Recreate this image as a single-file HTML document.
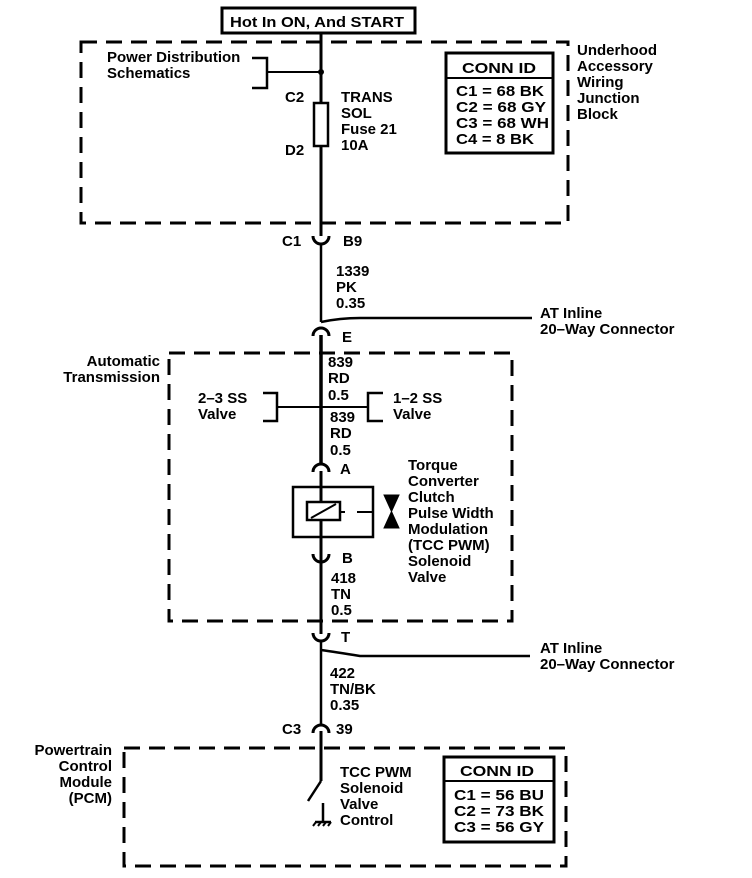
<!DOCTYPE html>
<html><head><meta charset="utf-8"><style>
html,body{margin:0;padding:0;background:#fff;}
svg{display:block;}
text{font-family:"Liberation Sans",Arial,sans-serif;font-size:15px;font-weight:bold;fill:#000;}
</style></head><body>
<svg width="752" height="878" viewBox="0 0 752 878" xmlns="http://www.w3.org/2000/svg">
<g fill="none" stroke="#000">
<rect x="222" y="8" width="193" height="25" stroke-width="3"/>
<rect x="81" y="42" width="487" height="181" stroke-width="3" stroke-dasharray="16,9"/>
<rect x="169" y="353" width="343" height="268" stroke-width="3" stroke-dasharray="16,9"/>
<rect x="124" y="748" width="442" height="118" stroke-width="3" stroke-dasharray="16,9"/>
<line x1="321" y1="33" x2="321" y2="103" stroke-width="3"/>
<line x1="321" y1="146" x2="321" y2="236" stroke-width="3"/>
<rect x="314" y="103" width="14" height="43" stroke-width="2.5"/>
<polyline points="252,58 267,58 267,88 252,88" stroke-width="2.5"/>
<line x1="267" y1="72" x2="321" y2="72" stroke-width="2"/>
<rect x="446" y="53" width="107" height="100" stroke-width="3"/>
<line x1="446" y1="78" x2="553" y2="78" stroke-width="2"/>
<path d="M313,236 A8,8 0 0 0 329,236" stroke-width="3"/>
<line x1="321" y1="244" x2="321" y2="322" stroke-width="2.5"/>
<path d="M313,336 A8,8 0 0 1 329,336" stroke-width="3"/>
<path d="M321,322 Q340,318 360,318 L532,318" stroke-width="2.5"/>
<line x1="321" y1="335" x2="321" y2="463" stroke-width="3.5"/>
<line x1="277" y1="407" x2="368" y2="407" stroke-width="2"/>
<polyline points="263,393 277,393 277,421 263,421" stroke-width="2.5"/>
<polyline points="383,393 368,393 368,421 383,421" stroke-width="2.5"/>
<path d="M313,472 A8,8 0 0 1 329,472" stroke-width="3"/>
<line x1="321" y1="471" x2="321" y2="502" stroke-width="3"/>
<rect x="293" y="487" width="80" height="50" stroke-width="2.5"/>
<rect x="307" y="502" width="33" height="18" stroke-width="2.5"/>
<line x1="311" y1="518" x2="336" y2="504" stroke-width="2"/>
<line x1="340" y1="512" x2="345" y2="512" stroke-width="2"/>
<line x1="357" y1="512" x2="373" y2="512" stroke-width="2"/>
<line x1="321" y1="520" x2="321" y2="555" stroke-width="3"/>
<path d="M384,495 L399,495 L384,528 L399,528 Z" fill="#000" stroke-width="1"/>
<path d="M313,554 A8,8 0 0 0 329,554" stroke-width="3"/>
<line x1="321" y1="554" x2="321" y2="634" stroke-width="3"/>
<path d="M313,633 A8,8 0 0 0 329,633" stroke-width="3"/>
<line x1="321" y1="641" x2="321" y2="724" stroke-width="2.5"/>
<path d="M321,650 Q335,652 360,656 L530,656" stroke-width="2.5"/>
<path d="M313,733 A8,8 0 0 1 329,733" stroke-width="3"/>
<line x1="321" y1="731" x2="321" y2="781" stroke-width="3"/>
<line x1="321" y1="781" x2="308" y2="801" stroke-width="2.5"/>
<line x1="323" y1="803" x2="323" y2="822" stroke-width="2.5"/>
<line x1="315" y1="822" x2="331" y2="822" stroke-width="2.5"/>
<path d="M316,822 l-3,4 M321,822 l-3,4 M326,822 l-3,4 M331,822 l-3,4" stroke-width="2"/>
<rect x="444" y="757" width="110" height="85" stroke-width="3"/>
<line x1="444" y1="781" x2="554" y2="781" stroke-width="2"/>
</g>
<circle cx="321" cy="72" r="3" fill="#000"/>
<text x="230" y="27" textLength="174" lengthAdjust="spacingAndGlyphs">Hot In ON, And START</text>
<text x="107" y="62">Power Distribution</text>
<text x="107" y="78">Schematics</text>
<text x="285" y="102">C2</text>
<text x="285" y="155">D2</text>
<text x="341" y="102">TRANS</text>
<text x="341" y="118">SOL</text>
<text x="341" y="134">Fuse 21</text>
<text x="341" y="150">10A</text>
<text x="462" y="73" textLength="74" lengthAdjust="spacingAndGlyphs">CONN ID</text>
<text x="456" y="96" textLength="88" lengthAdjust="spacingAndGlyphs">C1 = 68 BK</text>
<text x="456" y="112" textLength="90" lengthAdjust="spacingAndGlyphs">C2 = 68 GY</text>
<text x="456" y="128" textLength="93" lengthAdjust="spacingAndGlyphs">C3 = 68 WH</text>
<text x="456" y="144" textLength="78" lengthAdjust="spacingAndGlyphs">C4 = 8 BK</text>
<text x="577" y="55">Underhood</text>
<text x="577" y="71">Accessory</text>
<text x="577" y="87">Wiring</text>
<text x="577" y="103">Junction</text>
<text x="577" y="119">Block</text>
<text x="282" y="246">C1</text>
<text x="343" y="246">B9</text>
<text x="336" y="276">1339</text>
<text x="336" y="292">PK</text>
<text x="336" y="308">0.35</text>
<text x="540" y="318">AT Inline</text>
<text x="540" y="334">20–Way Connector</text>
<text x="342" y="342">E</text>
<text x="160" y="366" text-anchor="end">Automatic</text>
<text x="160" y="382" text-anchor="end">Transmission</text>
<text x="328" y="367">839</text>
<text x="328" y="383">RD</text>
<text x="328" y="400">0.5</text>
<text x="198" y="403">2–3 SS</text>
<text x="198" y="419">Valve</text>
<text x="393" y="403">1–2 SS</text>
<text x="393" y="419">Valve</text>
<text x="330" y="422">839</text>
<text x="330" y="438">RD</text>
<text x="330" y="455">0.5</text>
<text x="340" y="474">A</text>
<text x="408" y="470">Torque</text>
<text x="408" y="486">Converter</text>
<text x="408" y="502">Clutch</text>
<text x="408" y="518">Pulse Width</text>
<text x="408" y="534">Modulation</text>
<text x="408" y="550">(TCC PWM)</text>
<text x="408" y="566">Solenoid</text>
<text x="408" y="582">Valve</text>
<text x="342" y="563">B</text>
<text x="331" y="583">418</text>
<text x="331" y="599">TN</text>
<text x="331" y="615">0.5</text>
<text x="341" y="642">T</text>
<text x="540" y="653">AT Inline</text>
<text x="540" y="669">20–Way Connector</text>
<text x="330" y="678">422</text>
<text x="330" y="694">TN/BK</text>
<text x="330" y="710">0.35</text>
<text x="282" y="734">C3</text>
<text x="336" y="734">39</text>
<text x="112" y="755" text-anchor="end">Powertrain</text>
<text x="112" y="771" text-anchor="end">Control</text>
<text x="112" y="787" text-anchor="end">Module</text>
<text x="112" y="803" text-anchor="end">(PCM)</text>
<text x="340" y="777">TCC PWM</text>
<text x="340" y="793">Solenoid</text>
<text x="340" y="809">Valve</text>
<text x="340" y="825">Control</text>
<text x="460" y="776" textLength="74" lengthAdjust="spacingAndGlyphs">CONN ID</text>
<text x="454" y="800" textLength="90" lengthAdjust="spacingAndGlyphs">C1 = 56 BU</text>
<text x="454" y="816" textLength="90" lengthAdjust="spacingAndGlyphs">C2 = 73 BK</text>
<text x="454" y="832" textLength="90" lengthAdjust="spacingAndGlyphs">C3 = 56 GY</text>
</svg>
</body></html>
